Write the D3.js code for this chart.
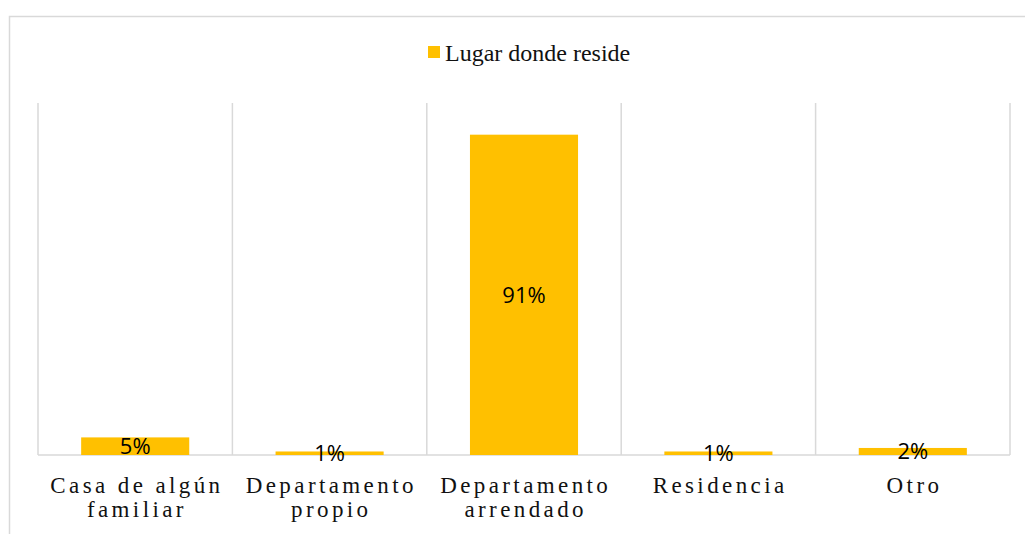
<!DOCTYPE html>
<html>
<head>
<meta charset="utf-8">
<script src="https://cdn.jsdelivr.net/npm/d3@7"></script>
<style>
  body { margin: 0; background: #fff; }
</style>
</head>
<body>
<div class="chart"></div>
<script>
var categories = [["Casa de algún", "familiar"], ["Departamento", "propio"], ["Departamento", "arrendado"], ["Residencia"], ["Otro"]];
var values = [0.05, 0.01, 0.91, 0.01, 0.02];
var labels = ["5%", "1%", "91%", "1%", "2%"];
var seriesName = "Lugar donde reside";

var width = 1025,
    height = 534;
var margin = {top: 103, bottom: 79, left: 38, right: 15};

var barColor = "#FFC000",
    gridColor = "#d9d9d9",
    serif = "Liberation Serif";

var svg = d3.select(".chart").append("svg")
    .attr("width", width)
    .attr("height", height);

// chart frame (only top and left edges visible)
svg.append("rect")
    .attr("x", 9.5).attr("y", 16.5)
    .attr("width", 1100).attr("height", 700)
    .attr("fill", "none")
    .attr("stroke", gridColor)
    .attr("stroke-width", 1.5);

var x = d3.scaleBand()
    .domain(d3.range(categories.length))
    .range([margin.left, width - margin.right])
    .paddingInner(0.444)
    .paddingOuter(0.222);

var y = d3.scaleLinear()
    .domain([0, 1])
    .range([height - margin.bottom, margin.top]);

// vertical gridlines between categories
var bounds = d3.range(categories.length + 1).map(function(i) {
  return margin.left + i * x.step();
});
svg.selectAll(".grid")
    .data(bounds)
    .enter().append("line")
    .attr("class", "grid")
    .attr("x1", function(d) { return d; })
    .attr("x2", function(d) { return d; })
    .attr("y1", y(1))
    .attr("y2", y(0))
    .attr("stroke", gridColor)
    .attr("stroke-width", 1.5);

// baseline
svg.append("line")
    .attr("x1", margin.left).attr("x2", width - margin.right)
    .attr("y1", y(0)).attr("y2", y(0))
    .attr("stroke", gridColor)
    .attr("stroke-width", 1.5);

svg.selectAll(".bar")
    .data(values)
    .enter().append("rect")
    .attr("class", "bar")
    .attr("x", function(d, i) { return x(i); })
    .attr("width", x.bandwidth())
    .attr("y", function(d) { return y(d); })
    .attr("height", function(d) { return y(0) - y(d); })
    .attr("fill", barColor);

// data labels, centered on the bar
svg.selectAll(".lbl")
    .data(values)
    .enter().append("text")
    .attr("class", "lbl")
    .attr("x", function(d, i) { return x(i) + x.bandwidth() / 2; })
    .attr("y", function(d) { return (y(d) + y(0)) / 2 + 8; })
    .attr("text-anchor", "middle")
    .style("font-family", "Open Sans")
    .style("font-size", "22px")
    .attr("fill", "#000")
    .text(function(d, i) { return labels[i]; });

// category labels
var cat = svg.selectAll(".cat")
    .data(categories)
    .enter().append("text")
    .attr("class", "cat")
    .attr("text-anchor", "middle")
    .style("font-family", serif)
    .style("font-size", "23px")
    .style("letter-spacing", "3.4px")
    .attr("fill", "#111");

cat.selectAll("tspan")
    .data(function(d, i) { return d.map(function(t) { return {t: t, i: i}; }); })
    .enter().append("tspan")
    .attr("x", function(d) { return x(d.i) + x.bandwidth() / 2 + 1.7; })
    .attr("y", function(d, j) { return 493 + j * 24; })
    .text(function(d) { return d.t; });

// legend
var legend = svg.append("g").attr("transform", "translate(428,46)");
legend.append("rect")
    .attr("width", 12).attr("height", 12)
    .attr("fill", barColor);
legend.append("text")
    .attr("x", 17).attr("y", 14.7)
    .style("font-family", serif)
    .style("font-size", "24px")
    .attr("fill", "#111")
    .text(seriesName);
</script>
</body>
</html>
